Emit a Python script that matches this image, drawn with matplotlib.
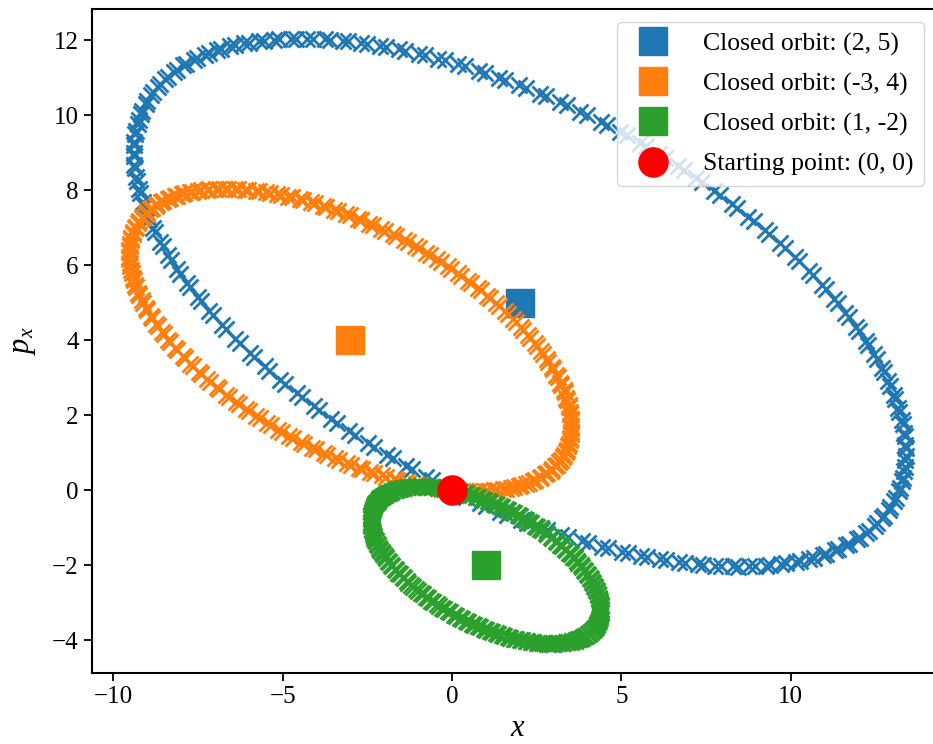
import numpy as np
import matplotlib
matplotlib.use("Agg")
import matplotlib.pyplot as plt

plt.rcParams['font.family'] = ['Liberation Serif', 'DejaVu Serif']
plt.rcParams['mathtext.fontset'] = 'custom'
plt.rcParams['mathtext.rm'] = 'Liberation Serif'
plt.rcParams['mathtext.it'] = 'Liberation Serif:italic'

# Fixed points of the closed orbits (x, p_x)
centers_x = [2, -3, 1]
centers_p = [5, 4, -2]
colors = ['#1f77b4', '#ff7f0e', '#2ca02c']
labels = ['Closed orbit: (2, 5)', 'Closed orbit: (-3, 4)', 'Closed orbit: (1, -2)']

# Starting point of every orbit
start_x, start_p = 0.0, 0.0

# Quadratic Hamiltonian H = 1/2 (a u^2 + 2 b u v + c v^2), u = x - xc, v = p - pc
a, b, c = 1.0, 0.92, 2.62
dt = 0.03975
t_end = 9.4

A = np.array([[b, c], [-a, -b]])
omega = np.sqrt(a * c - b ** 2)
t = np.arange(0, t_end, dt)

fig = plt.figure(figsize=(9.33, 7.44), dpi=100)
ax = fig.add_axes([92 / 933, (744 - 673) / 744, 851 / 933, 664 / 744])

for xc, pc, col, lab in zip(centers_x, centers_p, colors, labels):
    z0 = np.array([start_x - xc, start_p - pc])
    # exact flow of the linear system: exp(At) = cos(wt) I + sin(wt)/w A
    traj = np.outer(np.cos(omega * t), z0) + np.outer(np.sin(omega * t) / omega, A @ z0)
    ax.plot(traj[:, 0] + xc, traj[:, 1] + pc, 'x', color=col, ms=11, mew=2)
    ax.plot(xc, pc, 's', color=col, ms=20, label=lab)

ax.plot(start_x, start_p, 'o', color='red', ms=21, label='Starting point: (0, 0)')

ax.set_xlim(-10.63, 14.5)
ax.set_ylim(-4.88, 12.83)
ax.set_xticks([-10, -5, 0, 5, 10])
ax.set_yticks([-4, -2, 0, 2, 4, 6, 8, 10, 12])
ax.tick_params(labelsize=18, width=1.3, length=6)
for s in ax.spines.values():
    s.set_linewidth(1.5)
ax.set_xlabel('$x$', fontsize=22, labelpad=4)
ax.set_ylabel('$p_x$', fontsize=22, labelpad=10)

ax.legend(loc='upper left', bbox_to_anchor=(617 / 933, 1 - 22 / 744), bbox_transform=fig.transFigure,
          fontsize=18.5, handletextpad=0.95, labelspacing=0.65, borderaxespad=0, markerscale=1.0)

fig.savefig('out.png', dpi=100)
